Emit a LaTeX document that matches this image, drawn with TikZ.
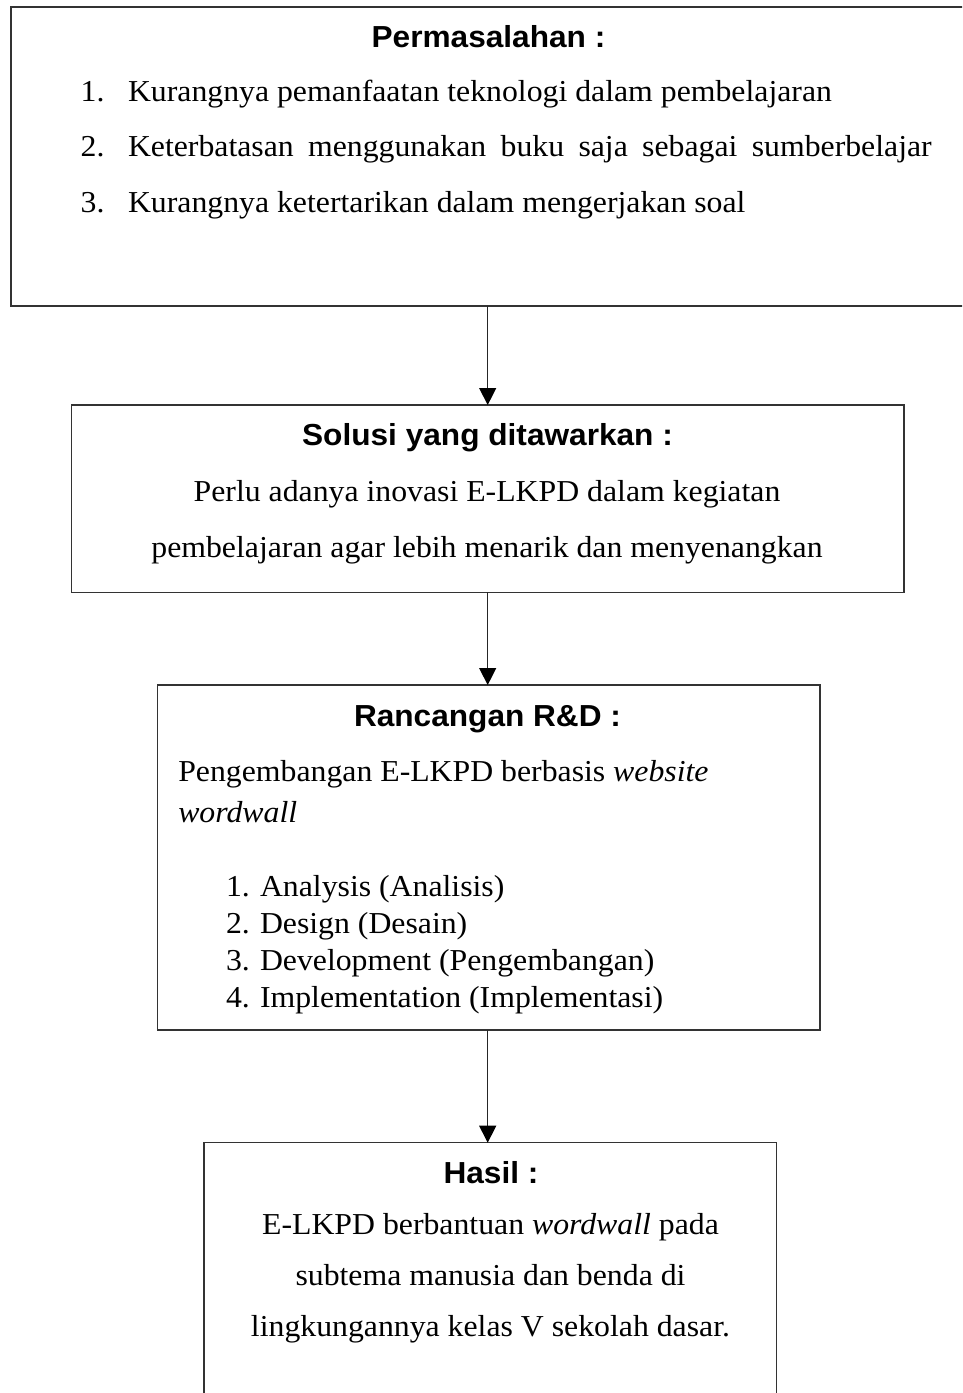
\documentclass[tikz,border=0pt]{standalone}
\usepackage{fontspec}
\setmainfont{Liberation Serif}[FakeStretch=1.045]
\newfontfamily\headfont{Liberation Sans}[FakeStretch=1.04]
\usetikzlibrary{arrows.meta}
\tikzset{
  box/.style={draw=black!80, line width=1.3pt, rectangle, inner sep=0pt, outer sep=0pt},
  txt/.style={inner sep=0pt, outer sep=0pt, font=\fontsize{30.4}{36}\selectfont},
  head/.style={inner sep=0pt, outer sep=0pt, font=\headfont\bfseries\fontsize{30.4}{36}\selectfont},
  arr/.style={draw=black!85, line width=1.3pt, -{Triangle[length=17pt,width=17pt,color=black]}}
}
\begin{document}
\begin{tikzpicture}[x=1pt,y=-1pt]
\useasboundingbox (0,0) rectangle (962,1393);
\clip (0,0) rectangle (962,1393);
\fill[white] (0,0) rectangle (962,1393);
% boxes
\node[box, minimum width=955pt, minimum height=299pt] (b1) at (488.5,156.5) {};
\node[box, minimum width=832.3pt, minimum height=187.3pt] (b2) at (487.85,498.65) {};
\node[box, minimum width=662.7pt, minimum height=345pt] (b3) at (488.65,857.5) {};
\node[box, minimum width=572.7pt, minimum height=290pt] (b4) at (490.35,1287.7) {};
% arrows
\coordinate (ax) at (487.7,0);
\draw[arr] (ax |- b1.south) -- (ax |- b2.north);
\draw[arr] (ax |- b2.south) -- (ax |- b3.north);
\draw[arr] (ax |- b3.south) -- (ax |- b4.north);
% box 1
\node[head, anchor=base] (h1) at (488.5,47) {Permasalahan :};
\node[txt, anchor=base west] (n11) at (80.7,101.7) {1.};
\node[txt, anchor=base west] (t11) at (128,101.7) {Kurangnya pemanfaatan teknologi dalam pembelajaran};
\node[txt, anchor=base west] (n12) at (80.7,156.7) {2.};
\node[txt, anchor=base west] (t12) at (128,156.7) {\makebox[803.7pt][s]{Keterbatasan menggunakan buku saja sebagai sumberbelajar}};
\node[txt, anchor=base west] (n13) at (80.7,212.7) {3.};
\node[txt, anchor=base west] (t13) at (128,212.7) {Kurangnya ketertarikan dalam mengerjakan soal};
% box 2
\node[head, anchor=base] (h2) at (487.5,445) {Solusi yang ditawarkan :};
\node[txt, anchor=base] (t21) at (487,501) {Perlu adanya inovasi E-LKPD dalam kegiatan};
\node[txt, anchor=base] (t22) at (487,557) {pembelajaran agar lebih menarik dan menyenangkan};
% box 3
\node[head, anchor=base] (h3) at (487.5,726) {Rancangan R\&D :};
\node[txt, anchor=base west] (t31) at (178.3,781) {Pengembangan E-LKPD berbasis \textit{website}};
\node[txt, anchor=base west] (t32) at (178.3,822.5) {\textit{wordwall}};
\node[txt, anchor=base west] (n31) at (226,896.7) {1.};
\node[txt, anchor=base west] (l31) at (260,896.7) {Analysis (Analisis)};
\node[txt, anchor=base west] (n32) at (226,933.5) {2.};
\node[txt, anchor=base west] (l32) at (260,933.5) {Design (Desain)};
\node[txt, anchor=base west] (n33) at (226,970.5) {3.};
\node[txt, anchor=base west] (l33) at (260,970.5) {Development (Pengembangan)};
\node[txt, anchor=base west] (n34) at (226,1007.5) {4.};
\node[txt, anchor=base west] (l34) at (260,1007.5) {Implementation (Implementasi)};
% box 4
\node[head, anchor=base] (h4) at (491,1183) {Hasil :};
\node[txt, anchor=base] (t41) at (490.5,1234) {E-LKPD berbantuan \textit{wordwall} pada};
\node[txt, anchor=base] (t42) at (490.5,1285) {subtema manusia dan benda di};
\node[txt, anchor=base] (t43) at (490.5,1336) {lingkungannya kelas V sekolah dasar.};
\end{tikzpicture}
\end{document}
